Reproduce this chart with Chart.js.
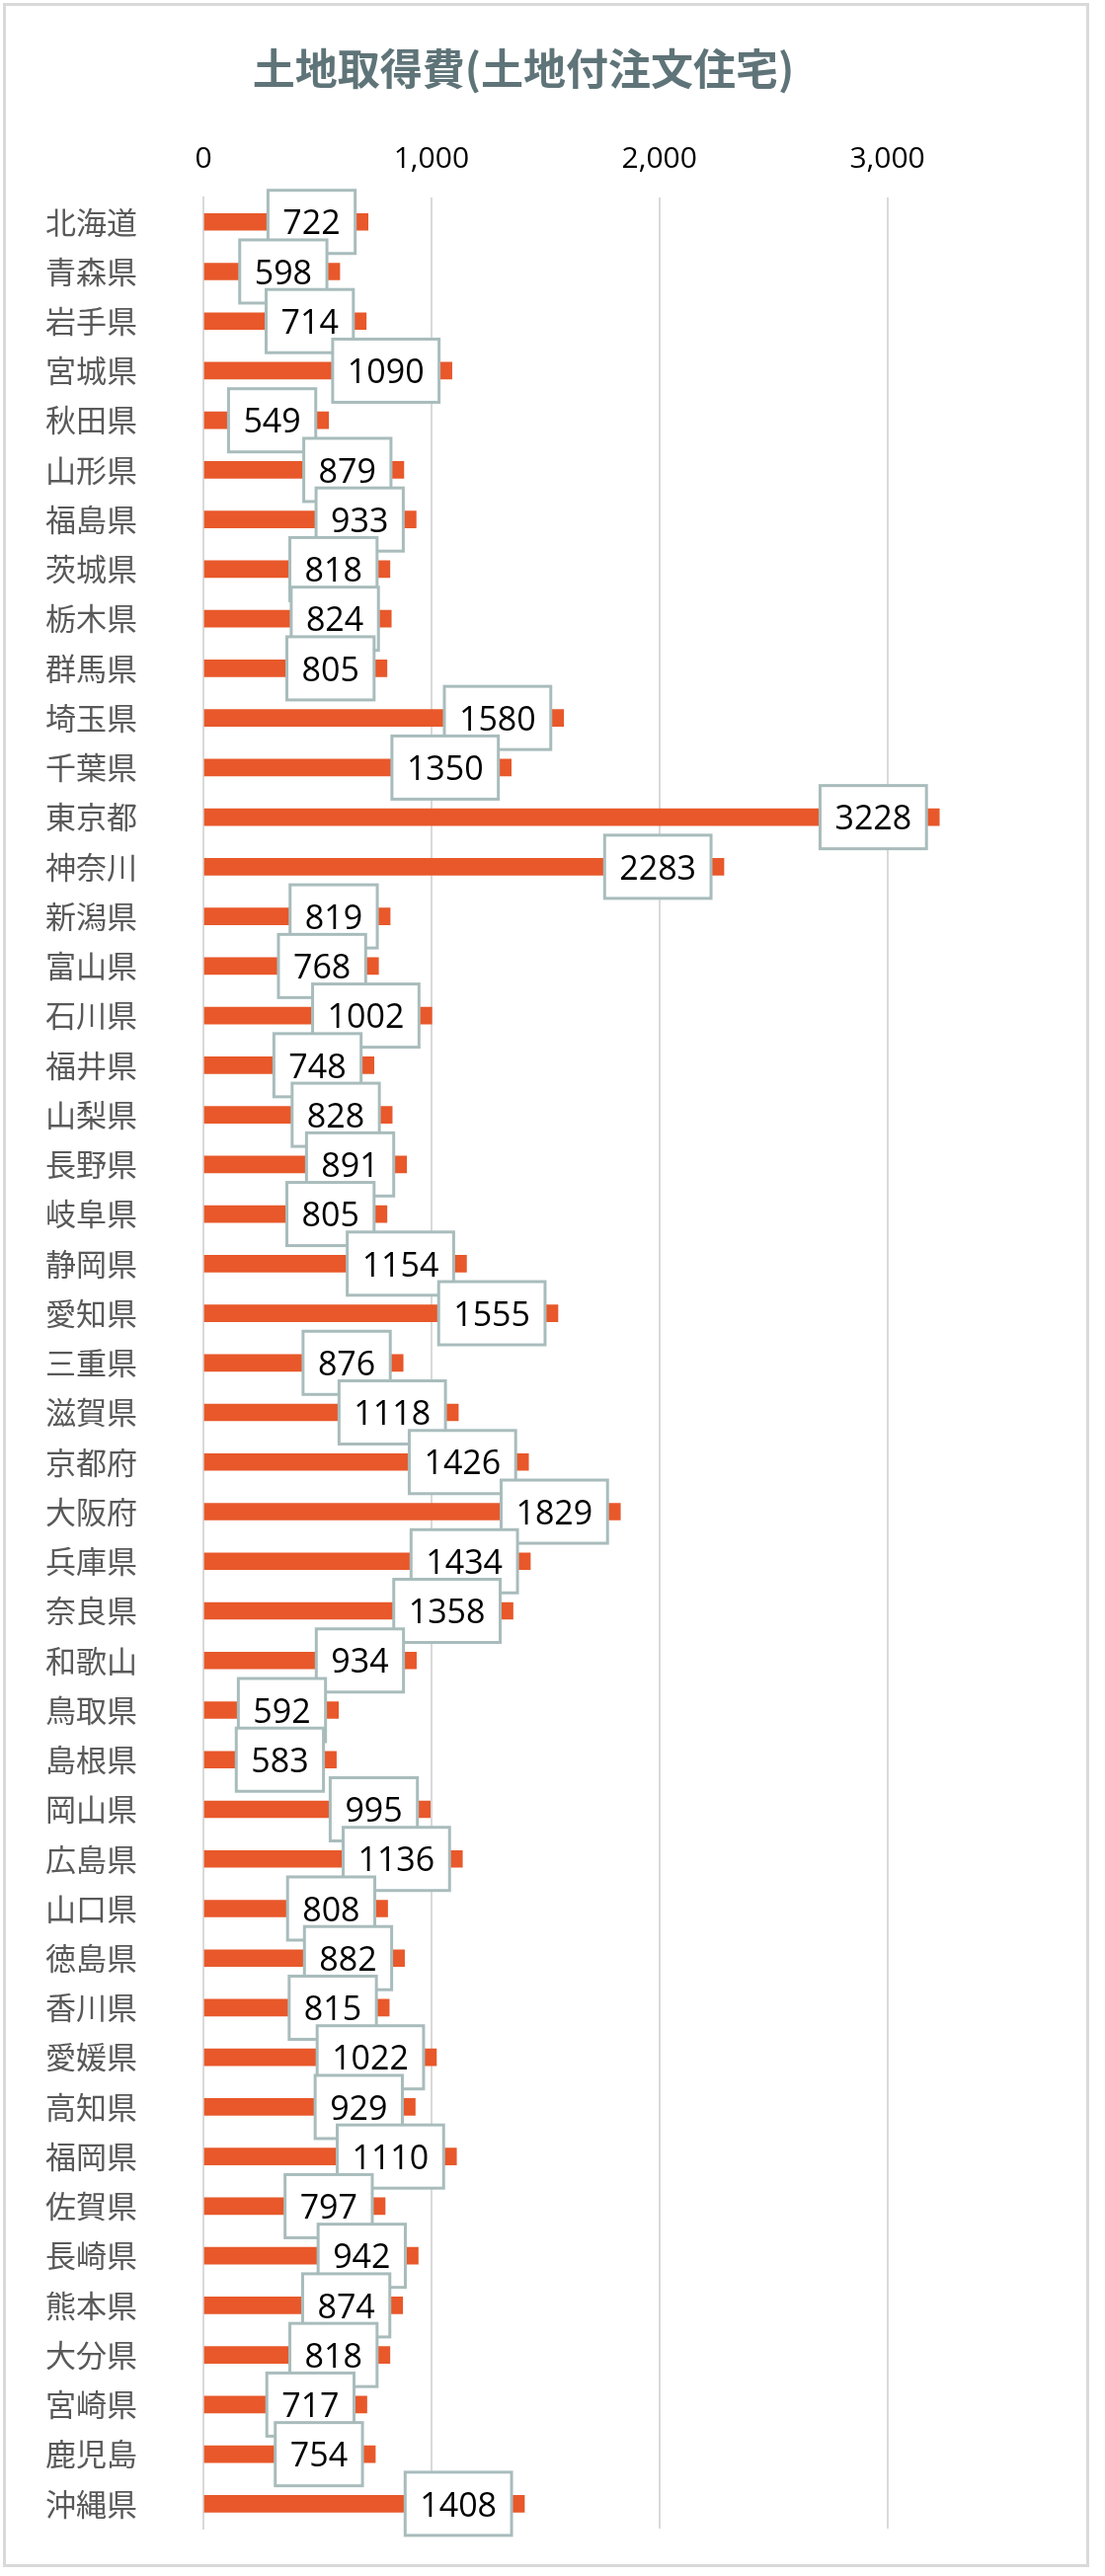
<!DOCTYPE html>
<html>
<head>
<meta charset="utf-8">
<script src="https://cdn.jsdelivr.net/npm/chart.js@4/dist/chart.umd.min.js"></script>
<style>
  html, body { margin: 0; padding: 0; background: #fff; }
  #wrap { position: relative; width: 1119px; height: 2609px; }
  #frame { position: absolute; left: 3px; top: 3px; width: 1100px; height: 2597px; border: 3px solid #d9d9d9; box-sizing: border-box; }
  canvas { position: absolute; left: 0; top: 0; }
</style>
</head>
<body>
<div id="wrap">
  <div id="frame"></div>
  <canvas id="landChart" width="1119" height="2609"></canvas>
</div>
<script>
// 都道府県
const prefectures = [
    '北海道', '青森県', '岩手県', '宮城県', '秋田県', '山形県', '福島県', '茨城県', '栃木県', '群馬県',
    '埼玉県', '千葉県', '東京都', '神奈川', '新潟県', '富山県', '石川県', '福井県', '山梨県', '長野県',
    '岐阜県', '静岡県', '愛知県', '三重県', '滋賀県', '京都府', '大阪府', '兵庫県', '奈良県', '和歌山',
    '鳥取県', '島根県', '岡山県', '広島県', '山口県', '徳島県', '香川県', '愛媛県', '高知県', '福岡県',
    '佐賀県', '長崎県', '熊本県', '大分県', '宮崎県', '鹿児島', '沖縄県'
];

// 土地取得費 (万円)
const landCost = [
    722, 598, 714, 1090, 549, 879, 933, 818, 824, 805,
    1580, 1350, 3228, 2283, 819, 768, 1002, 748, 828, 891,
    805, 1154, 1555, 876, 1118, 1426, 1829, 1434, 1358, 934,
    592, 583, 995, 1136, 808, 882, 815, 1022, 929, 1110,
    797, 942, 874, 818, 717, 754, 1408
];

const xTicks = [0, 1000, 2000, 3000];

// Value boxes drawn at the end of each bar
const valueBoxes = {
    id: 'valueBoxes',
    afterDatasetsDraw(chart) {
        const ctx = chart.ctx;
        const meta = chart.getDatasetMeta(0);
        ctx.save();
        ctx.font = '34px "Open Sans", "Liberation Sans", sans-serif';
        ctx.textBaseline = 'middle';
        ctx.textAlign = 'center';
        meta.data.forEach((bar, i) => {
            const text = String(landCost[i]);
            const w = ctx.measureText(text).width + 30;
            const h = 64;
            const right = bar.x - 13;
            const left = right - w;
            const top = bar.y - h / 2;
            ctx.fillStyle = '#ffffff';
            ctx.fillRect(left, top, w, h);
            ctx.strokeStyle = '#a9bcbc';
            ctx.lineWidth = 3;
            ctx.strokeRect(left, top, w, h);
            ctx.fillStyle = '#000000';
            ctx.fillText(text, left + w / 2, bar.y + 3);
        });
        ctx.restore();
    }
};

new Chart(document.getElementById('landChart'), {
    type: 'bar',
    data: {
        labels: prefectures,
        datasets: [{
            data: landCost,
            backgroundColor: '#e8582a',
            barThickness: 17,
        }]
    },
    options: {
        indexAxis: 'y',
        responsive: false,
        animation: false,
        layout: { padding: { left: 46, right: 105, bottom: 48 } },
        plugins: {
            legend: { display: false },
            tooltip: { enabled: false },
            title: {
                display: true,
                text: '土地取得費(土地付注文住宅)',
                color: '#5f7478',
                font: { size: 43, weight: 'bold', family: '"Noto Sans CJK JP", sans-serif' },
                padding: { top: 44, bottom: 26 }
            }
        },
        scales: {
            x: {
                position: 'top',
                min: 0,
                max: 3500,
                afterBuildTicks: scale => { scale.ticks = xTicks.map(v => ({ value: v })); },
                afterFit: scale => { scale.height = 78; },
                ticks: {
                    color: '#000000',
                    padding: 20,
                    font: { size: 30, family: '"Open Sans", sans-serif' }
                },
                grid: { color: '#d9d9d9', lineWidth: 2, drawTicks: false },
                border: { display: false }
            },
            y: {
                afterFit: scale => { scale.width = 160; },
                ticks: {
                    color: '#595959',
                    crossAlign: 'far',
                    autoSkip: false,
                    font: { size: 31, family: '"Noto Sans CJK JP", sans-serif' }
                },
                grid: { display: false },
                border: { color: '#d9d9d9', width: 2 }
            }
        }
    },
    plugins: [valueBoxes]
});
</script>
</body>
</html>
